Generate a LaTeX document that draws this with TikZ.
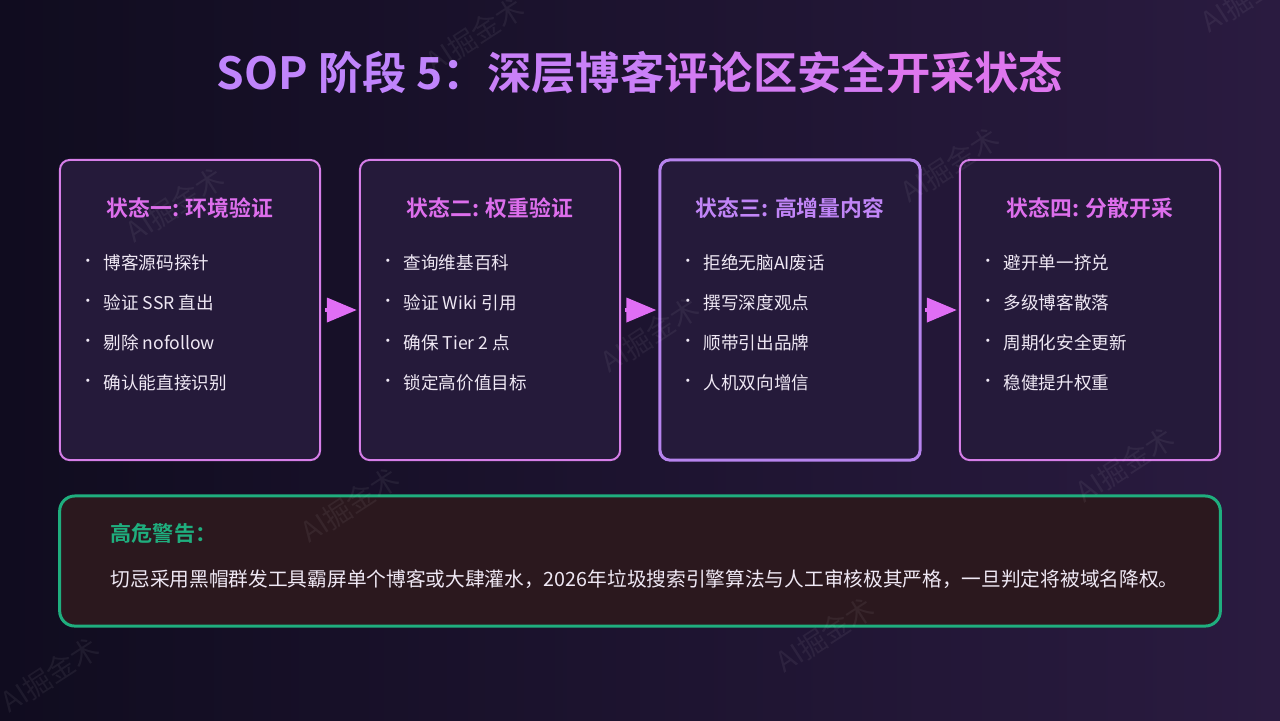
\documentclass[tikz,border=0pt]{standalone}
\usepackage{fontspec}
\setmainfont{Noto Sans CJK SC}[BoldFont={Noto Sans CJK SC Bold}]
\usetikzlibrary{positioning, arrows.meta}
\definecolor{bgleft}{HTML}{100C1F}
\definecolor{bgright}{HTML}{2A1B40}
\definecolor{boxfill}{HTML}{251A3A}
\definecolor{boxline}{HTML}{D67EE8}
\definecolor{boxlinehi}{HTML}{B784EE}
\definecolor{headpink}{HTML}{DD6EEC}
\definecolor{headlav}{HTML}{C185F7}
\definecolor{arrowpink}{HTML}{E06EF5}
\definecolor{textwhite}{HTML}{EFE8F4}
\definecolor{warnfill}{HTML}{2B181E}
\definecolor{warngreen}{HTML}{1FAE7E}
\definecolor{titleA}{HTML}{C084FC}
\definecolor{titleB}{HTML}{DE76EE}
\tikzset{
  statebox/.style={draw=boxline, line width=0.57pt, fill=boxfill, rounded corners=2.8pt,
    minimum width=2.6cm, minimum height=3cm, inner sep=0pt}
}
\tikzset{
  statehead/.style={font=\fontsize{6.2}{7.5}\selectfont\bfseries, text=headpink, inner sep=0pt},
  itemtext/.style={font=\fontsize{5}{6}\selectfont, text=textwhite, anchor=west, inner sep=0pt},
  itemdot/.style={font=\fontsize{4.3}{5}\selectfont, text=textwhite, inner sep=0pt},
  flowarrow/.style={line width=1.1pt, draw=arrowpink, fill=arrowpink,
    -{Triangle[length=8.5pt, width=6.8pt]}, shorten <=1.1pt, shorten >=0.6pt},
  watermark/.style={font=\fontsize{8}{9}\selectfont, text=white, text opacity=0.06, rotate=33}
}
% items of one state box: name, left x, list
\newcommand{\itemlist}[3]{%
  \foreach \txt [count=\k] in {#3} {
    \node[itemdot] (#1d\k) at (#2+28, 223+40*\k) {•};
    \node[itemtext] (#1t\k) at (#2+43, 223+40*\k) {\txt};
  }}

\begin{document}
\begin{tikzpicture}[x=0.01cm, y=-0.01cm, >=stealth]
  \useasboundingbox (0,0) rectangle (1280,720);
  \shade[left color=bgleft, right color=bgright] (0,0) rectangle (1280,720);

  % title
  \node[font=\fontsize{12.6}{15}\selectfont\bfseries, inner sep=0pt] (title) at (640,73)
    {{\color{titleA}SOP 阶段 5：}{\color{titleA!70!titleB}深层博客}{\color{titleA!35!titleB}评论区安全}{\color{titleB}开采状态}};

  % four state boxes
  \node[statebox] (s1) at (190,310) {};
  \node[statebox] (s2) at (490,310) {};
  \node[statebox, draw=boxlinehi, line width=0.85pt] (s3) at (790,310) {};
  \node[statebox] (s4) at (1090,310) {};

  % flow between states
  \draw[flowarrow] (s1.east) -- (s2.west);
  \draw[flowarrow] (s2.east) -- (s3.west);
  \draw[flowarrow] (s3.east) -- (s4.west);

  % warning panel
  \node[draw=warngreen, line width=0.85pt, fill=warnfill, rounded corners=4.3pt,
    minimum width=11.6cm, minimum height=1.3cm, inner sep=0pt] (warn) at (640,561) {};

  % watermark
  \foreach \wx/\wy [count=\w] in {175/205, 650/335, 1125/465, 350/505, 825/635,
      50/675, 475/35, 950/165, 1250/-5}
    \node[watermark] (wm\w) at (\wx,\wy) {AI掘金术};

  % box texts
  \node[statehead] (h1) at (190,208) {状态一: 环境验证};
  \node[statehead] (h2) at (490,208) {状态二: 权重验证};
  \node[statehead, text=headlav] (h3) at (790,208) {状态三: 高增量内容};
  \node[statehead] (h4) at (1090,208) {状态四: 分散开采};
  \itemlist{a}{60}{博客源码探针, 验证 SSR 直出, 剔除 nofollow, 确认能直接识别}
  \itemlist{b}{360}{查询维基百科, 验证 Wiki 引用, 确保 Tier 2 点, 锁定高价值目标}
  \itemlist{c}{660}{拒绝无脑AI废话, 撰写深度观点, 顺带引出品牌, 人机双向增信}
  \itemlist{e}{960}{避开单一挤兑, 多级博客散落, 周期化安全更新, 稳健提升权重}

  \node[font=\fontsize{6}{7}\selectfont\bfseries, text=warngreen, anchor=west, inner sep=0pt]
    (warntitle) at (110,533) {高危警告：};
  \node[font=\fontsize{5.6}{7}\selectfont, text=textwhite, anchor=west, inner sep=0pt]
    (warntext) at (110,579) {切忌采用黑帽群发工具霸屏单个博客或大肆灌水，2026年垃圾搜索引擎算法与人工审核极其严格，一旦判定将被域名降权。};
\end{tikzpicture}
\end{document}
